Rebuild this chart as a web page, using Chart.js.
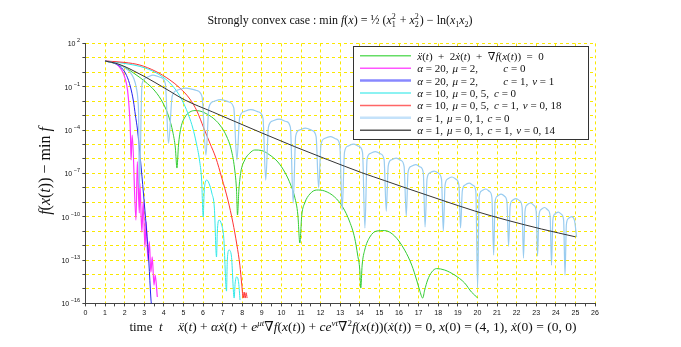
<!DOCTYPE html>
<html>
<head>
<meta charset="utf-8">
<script src="https://cdn.jsdelivr.net/npm/chart.js@4"></script>
<style>
  html, body { margin: 0; padding: 0; background: #fff; }
</style>
</head>
<body>
<canvas id="convexChart" width="681" height="347"></canvas>
<script>
// --- Datos: tiempo t y log10(f(x(t)) - min f) ---
const greenT = [1.00, 1.51, 2.02, 2.53, 3.04, 3.55, 3.96, 4.26, 4.46, 4.59, 4.67, 4.75, 4.87, 5.08, 5.33, 5.59, 5.84, 6.10, 6.45, 6.86, 7.22, 7.47, 7.62, 7.71, 7.76, 7.83, 7.93, 8.13, 8.39, 8.64, 9.00, 9.41, 9.82, 10.17, 10.48, 10.68, 10.84, 10.94, 11.04, 11.19, 11.45, 11.80, 12.21, 12.72, 13.13, 13.49, 13.74, 13.89, 14.00, 14.05, 14.12, 14.25, 14.51, 14.86, 15.27, 15.78, 16.29, 16.65, 16.90, 17.05, 17.21, 17.31, 17.46, 17.67, 17.92, 18.33, 18.84, 19.35, 19.70, 19.86, 20.01];
const greenLog = [0.78, 0.61, 0.33, -0.12, -0.64, -1.30, -2.13, -3.10, -4.14, -5.24, -6.63, -5.04, -3.86, -3.10, -2.75, -2.65, -2.68, -2.82, -3.10, -3.65, -4.48, -5.52, -6.77, -8.15, -9.88, -8.15, -6.91, -6.07, -5.59, -5.38, -5.42, -5.73, -6.21, -6.91, -7.81, -8.64, -9.88, -11.82, -9.88, -9.05, -8.43, -8.15, -8.22, -8.64, -9.33, -10.37, -11.48, -12.65, -13.69, -14.94, -13.35, -12.31, -11.41, -10.99, -10.96, -11.34, -12.31, -13.35, -14.38, -15.08, -15.63, -15.08, -14.38, -13.83, -13.59, -13.69, -14.04, -14.59, -15.22, -15.42, -15.63];

const magentaT = [1.00, 1.51, 1.85, 2.02, 2.15, 2.24, 2.30, 2.33, 2.39, 2.58, 2.65, 2.75, 2.78, 2.88, 2.95, 3.04, 3.10, 3.19, 3.26, 3.34, 3.41, 3.50, 3.56, 3.67];
const magentaLog = [0.78, 0.64, 0.16, -0.40, -1.23, -2.61, -4.34, -6.07, -4.34, -10.23, -6.19, -9.74, -7.69, -11.06, -8.96, -12.10, -10.35, -13.00, -11.73, -13.83, -12.77, -14.73, -14.04, -15.56];

const blueT = [1.00, 1.51, 1.85, 2.10, 2.30, 2.45, 2.55, 2.66, 2.81, 2.96, 3.11, 3.24, 3.34, 3.37];
const blueLog = [0.78, 0.61, 0.30, -0.22, -1.02, -1.99, -2.96, -4.00, -6.07, -8.36, -10.78, -13.21, -15.63, -16.12];

const cyanT = [1.00, 2.02, 3.04, 3.80, 4.31, 4.72, 5.03, 5.28, 5.48, 5.66, 5.82, 5.93, 6.01, 6.06, 6.12, 6.20, 6.30, 6.45, 6.58, 6.69, 6.73, 6.82, 6.94, 7.06, 7.20, 7.24, 7.33, 7.45, 7.59, 7.64, 7.73, 7.82, 7.89];
const cyanLog = [0.78, 0.61, 0.30, -0.19, -0.74, -1.43, -2.20, -3.03, -3.86, -4.90, -6.07, -7.46, -10.02, -8.29, -7.60, -7.46, -7.67, -8.36, -9.40, -12.79, -11.06, -10.23, -10.51, -11.48, -15.15, -13.00, -12.31, -12.72, -15.63, -14.59, -14.16, -14.59, -15.77];

const redT = [1.00, 2.02, 2.78, 3.55, 4.31, 4.82, 5.33, 5.69, 6.04, 6.35, 6.66, 6.96, 7.27, 7.52, 7.73, 7.88, 7.98, 8.05, 8.10, 8.15, 8.20, 8.25];
const redLog = [0.78, 0.68, 0.50, 0.09, -0.53, -1.09, -1.85, -2.68, -3.86, -4.90, -5.94, -7.32, -8.84, -10.37, -11.96, -13.35, -14.73, -15.63, -15.22, -15.63, -15.26, -15.63];

const lightBlueT = [1.00, 1.51, 2.02, 2.27, 2.48, 2.60, 2.68, 2.72, 2.75,
    2.89, 3.12, 3.45, 3.85, 4.08, 4.24,
    4.43, 4.71, 5.13, 5.67, 5.95, 6.15,
    6.30, 6.54, 6.91, 7.33, 7.57, 7.73,
    7.87, 8.10, 8.44, 8.84, 9.06, 9.20,
    9.34, 9.55, 9.88, 10.25, 10.46, 10.60,
    10.73, 10.92, 11.23, 11.57, 11.77, 11.90,
    12.02, 12.20, 12.49, 12.80, 12.98, 13.10,
    13.22, 13.39, 13.68, 13.97, 14.14, 14.26,
    14.37, 14.53, 14.80, 15.08, 15.24, 15.35,
    15.45, 15.60, 15.86, 16.11, 16.26, 16.37,
    16.46, 16.61, 16.85, 17.09, 17.24, 17.33,
    17.43, 17.56, 17.80, 18.03, 18.17, 18.26,
    18.35, 18.48, 18.70, 18.92, 19.06, 19.14,
    19.23, 19.36, 19.58, 19.80, 19.92, 20.01,
    20.09, 20.21, 20.42, 20.62, 20.74, 20.83,
    20.90, 21.02, 21.21, 21.40, 21.51, 21.59,
    21.67, 21.78, 21.97, 22.17, 22.28, 22.35,
    22.43, 22.53, 22.71, 22.89, 23.00, 23.07,
    23.14, 23.25, 23.43, 23.60, 23.71, 23.78,
    23.85, 23.95, 24.13, 24.30, 24.40, 24.47,
    24.54, 24.64, 24.80, 24.95, 25.06];
const lightBlueLog = [0.78, 0.64, 0.30, 0.02, -0.47, -1.09, -1.92, -3.30, -8.01,
    -0.81, -0.36, -0.19, -0.36, -0.81, -4.90,
    -1.64, -1.23, -1.09, -1.26, -1.68, -5.73,
    -2.44, -2.02, -1.89, -2.06, -2.47, -6.07,
    -3.13, -2.72, -2.58, -2.75, -3.17, -7.46,
    -3.79, -3.37, -3.24, -3.41, -3.82, -9.05,
    -4.41, -4.00, -3.86, -4.03, -4.45, -8.01,
    -5.00, -4.59, -4.45, -4.62, -5.04, -9.54,
    -5.52, -5.11, -4.97, -5.14, -5.56, -10.78,
    -6.04, -5.62, -5.49, -5.66, -6.07, -9.61,
    -6.49, -6.07, -5.94, -6.11, -6.52, -9.95,
    -6.94, -6.52, -6.39, -6.56, -6.97, -10.71,
    -7.39, -6.97, -6.84, -7.01, -7.42, -10.99,
    -7.81, -7.39, -7.25, -7.42, -7.84, -10.78,
    -8.22, -7.81, -7.67, -7.84, -8.26, -14.94,
    -8.64, -8.22, -8.08, -8.26, -8.67, -12.65,
    -8.98, -8.57, -8.43, -8.60, -9.02, -12.03,
    -9.29, -8.88, -8.74, -8.91, -9.33, -12.86,
    -9.61, -9.19, -9.05, -9.23, -9.64, -12.72,
    -9.92, -9.50, -9.36, -9.54, -9.95, -13.35,
    -10.23, -9.81, -9.68, -9.85, -10.26, -14.04,
    -10.54, -10.13, -9.99, -10.23, -11.41];

const blackT = [1.00, 1.51, 2.02, 2.53, 3.04, 4.06, 5.08, 6.50, 7.27, 9.00, 10.68, 12.36, 14.10, 15.27, 16.44, 18.18, 19.86, 21.54, 23.27, 25.00];
const blackLog = [0.78, 0.64, 0.39, 0.05, -0.31, -1.11, -1.92, -2.75, -3.20, -4.20, -5.15, -6.05, -6.95, -7.50, -8.05, -8.85, -9.60, -10.25, -10.85, -11.39];

// Ejes
const xTickLabels = [0, 1, 2, 3, 4, 5, 6, 7, 8, 9, 10, 11, 12, 13, 14, 15, 16, 17, 18, 19, 20, 21, 22, 23, 24, 25, 26];
const yDecades = [2, 1, 0, -1, -2, -3, -4, -5, -6, -7, -8, -9, -10, -11, -12, -13, -14, -15, -16];
const yLabelExps = [2, -1, -4, -7, -10, -13, -16];

// Leyenda (texto con partes: [texto, estilo]; 'at' = posición mínima de columna)
const legendRows = [
    [['ẍ', 'i'], ['(', 'r'], ['t', 'i'], [')  +  2', 'r'], ['ẋ', 'i'], ['(', 'r'], ['t', 'i'], [')  +  ∇', 'r'], ['f', 'i'], ['(', 'r'], ['x', 'i'], ['(', 'r'], ['t', 'i'], ['))  =  0', 'r']],
    [['α', 'i'], [' = 20,', 'r'], [28.7, 'at'], ['μ', 'i'], [' = 2,', 'r'], [86, 'at'], ['c', 'i'], [' = 0', 'r']],
    [['α', 'i'], [' = 20,', 'r'], [28.7, 'at'], ['μ', 'i'], [' = 2,', 'r'], [86, 'at'], ['c', 'i'], [' = 1,', 'r'], [113.7, 'at'], ['ν', 'i'], [' = 1', 'r']],
    [['α', 'i'], [' = 10,', 'r'], [28.7, 'at'], ['μ', 'i'], [' = 0, 5,', 'r'], [76.7, 'at'], ['c', 'i'], [' = 0', 'r']],
    [['α', 'i'], [' = 10,', 'r'], [28.7, 'at'], ['μ', 'i'], [' = 0, 5,', 'r'], [76.7, 'at'], ['c', 'i'], [' = 1,', 'r'], [104.3, 'at'], ['ν', 'i'], [' = 0, 18', 'r']],
    [['α', 'i'], [' = 1,', 'r'], [22, 'at'], ['μ', 'i'], [' = 0, 1,', 'r'], [70, 'at'], ['c', 'i'], [' = 0', 'r']],
    [['α', 'i'], [' = 1,', 'r'], [22, 'at'], ['μ', 'i'], [' = 0, 1,', 'r'], [70, 'at'], ['c', 'i'], [' = 1,', 'r'], [97.7, 'at'], ['ν', 'i'], [' = 0, 14', 'r']]
];

const GRID = 'rgb(250, 232, 0)';
const AXIS = '#444';
const SERIF = '"Liberation Serif", "DejaVu Serif", serif';
const SANS = '"Liberation Sans", "DejaVu Sans", sans-serif';

const series = [
    { t: greenT, v: greenLog, color: '#33cc33', legend: '#66dd66', lw: 1, lwLegend: 1.5 },
    { t: magentaT, v: magentaLog, color: '#ff33ff', legend: '#ff55ff', lw: 1.2, lwLegend: 1.5 },
    { t: blueT, v: blueLog, color: '#2222ee', legend: '#8888ff', lw: 1, lwLegend: 2.5 },
    { t: cyanT, v: cyanLog, color: '#33e8e8', legend: '#66eeee', lw: 1, lwLegend: 1.5 },
    { t: redT, v: redLog, color: '#ff3333', legend: '#ff6666', lw: 1, lwLegend: 1.5 },
    { t: lightBlueT, v: lightBlueLog, color: '#99ccf0', legend: '#c4e2fa', lw: 1.2, lwLegend: 2.5 },
    { t: blackT, v: blackLog, color: '#333333', legend: '#555555', lw: 1, lwLegend: 1.5 }
];

function toPoints(ts, logs) {
    const n = Math.min(ts.length, logs.length);
    const pts = [];
    for (let i = 0; i < n; i++) pts.push({ x: ts[i], y: Math.pow(10, logs[i]) });
    return pts;
}

function fontFor(style, size) {
    const italic = style === 'i' || style === 'supi' || style === 'subi';
    const small = !(style === 'r' || style === 'i');
    return (italic ? 'italic ' : '') + (small ? Math.round(size * 0.7) : size) + 'px ' + SERIF;
}

// Dibuja texto "matemático" por partes (normal, cursiva, super/subíndice)
function drawRich(ctx, parts, x, y, size, align) {
    let width = 0;
    parts.forEach(([txt, st]) => {
        if (st === 'at') { width = Math.max(width + 4, txt); return; }
        if (st === 'ss') {
            ctx.font = fontFor('sup', size);
            width += Math.max(...txt.split('|').map(s => ctx.measureText(s).width)) + 1;
            return;
        }
        ctx.font = fontFor(st, size);
        width += ctx.measureText(txt).width;
    });
    const x0 = align === 'center' ? x - width / 2 : (align === 'right' ? x - width : x);
    let cx = x0;
    ctx.textAlign = 'left';
    ctx.textBaseline = 'alphabetic';
    parts.forEach(([txt, st]) => {
        if (st === 'at') { cx = Math.max(x0 + txt, cx + 4); return; }
        if (st === 'ss') {
            const [a, b] = txt.split('|');
            ctx.font = fontFor('sup', size);
            ctx.fillText(a, cx, y - size * 0.4);
            ctx.fillText(b, cx, y + size * 0.22);
            cx += Math.max(ctx.measureText(a).width, ctx.measureText(b).width) + 1;
            return;
        }
        ctx.font = fontFor(st, size);
        let dy = 0;
        if (st === 'sup' || st === 'supi') dy = -size * 0.4;
        if (st === 'sub' || st === 'subi') dy = size * 0.22;
        ctx.fillText(txt, cx, y + dy);
        cx += ctx.measureText(txt).width;
    });
}

const titleParts = [['Strongly convex case : min ', 'r'], ['f', 'i'], ['(', 'r'], ['x', 'i'], [') = ', 'r'], ['½', 'r'], [' (', 'r'], ['x', 'i'], ['2|1', 'ss'], [' + ', 'r'], ['x', 'i'], ['2|2', 'ss'], [') − ln(', 'r'], ['x', 'i'], ['1', 'sub'], ['x', 'i'], ['2', 'sub'], [')', 'r']];
const yTitleParts = [['f', 'i'], ['(', 'r'], ['x', 'i'], ['(', 'r'], ['t', 'i'], [')) − min ', 'r'], ['f', 'i']];
const timeParts = [['time  ', 'r'], ['t', 'i']];
const eqParts = [['ẍ', 'i'], ['(', 'r'], ['t', 'i'], [') + ', 'r'], ['αẋ', 'i'], ['(', 'r'], ['t', 'i'], [') + ', 'r'], ['e', 'i'], ['μt', 'supi'], ['∇', 'r'], ['f', 'i'], ['(', 'r'], ['x', 'i'], ['(', 'r'], ['t', 'i'], [')) + ', 'r'], ['ce', 'i'], ['νt', 'supi'], ['∇', 'r'], ['2', 'sup'], ['f', 'i'], ['(', 'r'], ['x', 'i'], ['(', 'r'], ['t', 'i'], ['))(', 'r'], ['ẋ', 'i'], ['(', 'r'], ['t', 'i'], [')) = 0, ', 'r'], ['x', 'i'], ['(0) = (4, 1), ', 'r'], ['ẋ', 'i'], ['(0) = (0, 0)', 'r']];

const textPlugin = {
    id: 'mathTexts',
    afterDraw: (chart) => {
        const { ctx, scales: { y } } = chart;
        ctx.save();
        ctx.fillStyle = '#111';

        // Etiquetas del eje y: 10^k
        yLabelExps.forEach(e => {
            const py = y.getPixelForValue(Number('1e' + e));
            ctx.font = '5.5px ' + SANS;
            const expTxt = e < 0 ? '−' + Math.abs(e) : String(e);
            const ew = ctx.measureText(expTxt).width;
            ctx.textAlign = 'left';
            ctx.textBaseline = 'alphabetic';
            ctx.fillText(expTxt, 80 - ew, py - 1);
            ctx.font = '7px ' + SANS;
            const bw = ctx.measureText('10').width;
            ctx.fillText('10', 80 - ew - 1.5 - bw, py + 3);
        });

        drawRich(ctx, titleParts, 340, 24, 12, 'center');
        drawRich(ctx, timeParts, 146, 331, 13, 'center');
        drawRich(ctx, eqParts, 178, 331, 13.5, 'left');

        ctx.save();
        ctx.translate(50, 171);
        ctx.rotate(-Math.PI / 2);
        drawRich(ctx, yTitleParts, 0, 0, 16, 'center');
        ctx.restore();

        // Leyenda
        ctx.fillStyle = '#fff';
        ctx.fillRect(353.5, 46.5, 235, 93);
        ctx.strokeStyle = '#333';
        ctx.lineWidth = 1;
        ctx.strokeRect(353.5, 46.5, 235, 93);
        legendRows.forEach((row, i) => {
            const ry = 55.7 + i * 12.43;
            const s = series[i];
            ctx.strokeStyle = s.legend;
            ctx.lineWidth = s.lwLegend;
            ctx.beginPath();
            ctx.moveTo(360, ry);
            ctx.lineTo(411, ry);
            ctx.stroke();
            ctx.fillStyle = '#111';
            drawRich(ctx, row, 417.3, ry + 4, 11, 'left');
        });
        ctx.restore();
    }
};

document.addEventListener('DOMContentLoaded', function () {
    const ctx = document.getElementById('convexChart');

    new Chart(ctx, {
        type: 'line',
        data: {
            datasets: series.map((s, i) => ({
                data: toPoints(s.t, s.v),
                borderColor: s.color,
                borderWidth: s.lw,
                pointRadius: 0,
                fill: false,
                cubicInterpolationMode: 'monotone',
                order: series.length - i
            }))
        },
        options: {
            responsive: false,
            animation: false,
            events: [],
            layout: { padding: { top: 43.4, right: 86, left: 0, bottom: 0 } },
            plugins: {
                legend: { display: false },
                tooltip: { enabled: false },
                title: { display: false }
            },
            scales: {
                x: {
                    type: 'linear',
                    min: 0,
                    max: 26,
                    afterBuildTicks: (scale) => {
                        const ticks = [];
                        xTickLabels.forEach(v => {
                            ticks.push({ value: v });
                            if (v < 26) ticks.push({ value: v + 0.5 });
                        });
                        scale.ticks = ticks;
                    },
                    ticks: {
                        autoSkip: false,
                        maxRotation: 0,
                        padding: 2,
                        color: '#111',
                        font: { family: SANS, size: 7 },
                        callback: (v) => Number.isInteger(v) ? String(v) : ''
                    },
                    grid: {
                        color: (c) => (c.tick && Number.isInteger(c.tick.value)) ? GRID : 'rgba(0,0,0,0)',
                        lineWidth: 1,
                        tickColor: AXIS,
                        tickLength: 3
                    },
                    border: { display: true, color: AXIS, width: 1, dash: [3, 3] },
                    afterFit: (scale) => { scale.height = 43.6; }
                },
                y: {
                    type: 'logarithmic',
                    min: 1e-16,
                    max: 1e2,
                    afterBuildTicks: (scale) => {
                        scale.ticks = yDecades.map(e => ({ value: Number('1e' + e) }));
                    },
                    ticks: { autoSkip: false, padding: 0, callback: () => '' },
                    grid: { color: GRID, lineWidth: 1, tickColor: AXIS, tickLength: 3 },
                    border: { display: true, color: AXIS, width: 1, dash: [3, 3] },
                    afterFit: (scale) => { scale.width = 85.4; }
                }
            }
        },
        plugins: [textPlugin]
    });
});
</script>
</body>
</html>
